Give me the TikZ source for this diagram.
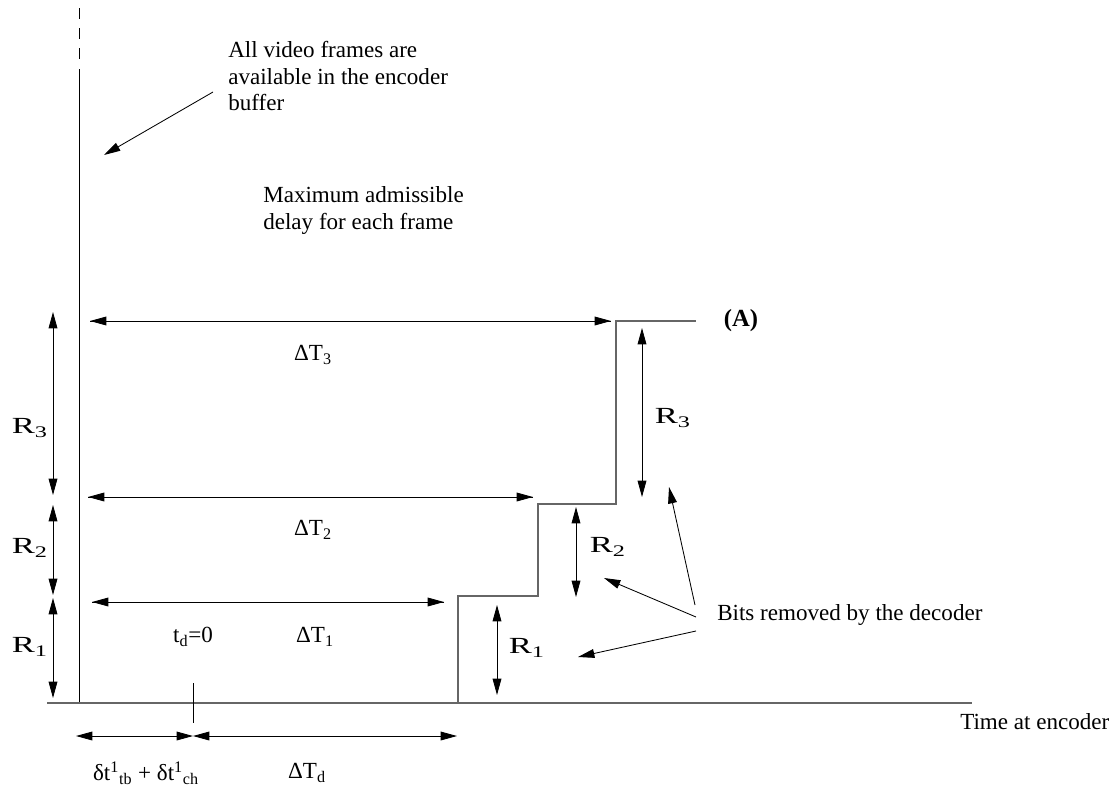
\documentclass[tikz,border=0pt]{standalone}
\usepackage{fontspec}
\setmainfont{Liberation Serif}
\usetikzlibrary{arrows.meta,positioning}

\newcommand{\wideR}[1]{\scalebox{1.5}[1]{R\textsubscript{#1}}}

\begin{document}
\begin{tikzpicture}[x=0.025cm, y=-0.025cm, font=\fontsize{16.4}{19}\selectfont,
  >={Triangle[length=4.1mm,width=2.2mm]},
  ln/.style={line width=0.6pt},
  dim/.style={ln, <->},
  stair/.style={line width=0.8pt, draw=black!60},
  txt/.style={inner sep=0pt, align=left},
  rl/.style={inner sep=0pt}]
\useasboundingbox (0,0) rectangle (1118,790);

% axes
\coordinate (ytop) at (79,8);
\coordinate (ydsh) at (79,60);
\coordinate (ybrk) at (79,69);
\coordinate (y0) at (79,703);
\coordinate (x0) at (47,703);
\coordinate (x1) at (972,703);
\draw[ln, dash pattern=on 2.8mm off 2.2mm] (ytop) -- (ydsh);
\draw[ln] (ybrk) -- (y0);
\draw[stair] (x0) -- (x1);
\node[txt, anchor=base west] (time) at (960,729) {Time at encoder};

% buffer occupancy
\coordinate (s0) at (458,703);
\coordinate (s1) at (458,596);
\coordinate (s2) at (538,596);
\coordinate (s3) at (538,504);
\coordinate (s4) at (616,504);
\coordinate (s5) at (616,321);
\coordinate (s6) at (696,321);
\draw[stair] (s0) -- (s1) -- (s2) -- (s3) -- (s4) -- (s5) -- (s6);
\node[inner sep=0pt, font=\fontsize{17.5}{20}\selectfont\bfseries] (A) at (741,321) {(A)};

% top notes
\node[txt, anchor=north west] (note1) at (228,41)
  {All video frames are\\available in the encoder\\buffer};
\coordinate (n1a) at (213,92);
\coordinate (n1b) at (104,155);
\draw[ln, ->] (n1a) -- (n1b);
\node[txt, anchor=north west] (note2) at (263,186)
  {Maximum admissible\\delay for each frame};

% left R arrows
\coordinate (l3t) at (53,312);
\coordinate (l3b) at (53,495);
\coordinate (l2t) at (53,505);
\coordinate (l2b) at (53,595);
\coordinate (l1t) at (53,598);
\coordinate (l1b) at (53,698);
\draw[dim] (l3t) -- (l3b);
\draw[dim] (l2t) -- (l2b);
\draw[dim] (l1t) -- (l1b);
\node[rl] (lR3) at (30,428) {\wideR{3}};
\node[rl] (lR2) at (30,548) {\wideR{2}};
\node[rl] (lR1) at (30,647) {\wideR{1}};

% delays
\coordinate (d3a) at (90,321);
\coordinate (d3b) at (611,321);
\coordinate (d2a) at (88,497);
\coordinate (d2b) at (533,497);
\coordinate (d1a) at (92,602);
\coordinate (d1b) at (444,602);
\draw[ln, ->] (d3b) -- (d3a);
\draw[ln, ->] (d3a) -- (d3b);
\draw[ln, ->] (d2b) -- (d2a);
\draw[ln, ->] (d2a) -- (d2b);
\draw[ln, ->] (d1b) -- (d1a);
\draw[ln, ->] (d1a) -- (d1b);
\node[inner sep=0pt] (dT3) at (313,355) {ΔT\textsubscript{3}};
\node[inner sep=0pt] (dT2) at (313,530) {ΔT\textsubscript{2}};
\node[inner sep=0pt] (dT1) at (315,637) {ΔT\textsubscript{1}};
\node[inner sep=0pt] (td) at (193,637) {t\textsubscript{d}=0};

% right R arrows
\coordinate (r3t) at (642,328);
\coordinate (r3b) at (642,497);
\coordinate (r2t) at (576,507);
\coordinate (r2b) at (576,597);
\coordinate (r1t) at (497,605);
\coordinate (r1b) at (497,695);
\draw[dim] (r3t) -- (r3b);
\draw[dim] (r2t) -- (r2b);
\draw[dim] (r1t) -- (r1b);
\node[rl] (rR3) at (673,418) {\wideR{3}};
\node[rl] (rR2) at (608,547) {\wideR{2}};
\node[rl] (rR1) at (527,648) {\wideR{1}};

% bits removed
\node[txt, anchor=base west] (bits) at (717,620) {Bits removed by the decoder};
\coordinate (b3) at (695,605);
\coordinate (b2) at (696,617);
\coordinate (b1) at (696,631);
\coordinate (t3) at (669,487);
\coordinate (t2) at (604,578);
\coordinate (t1) at (578,657);
\draw[ln, ->] (b3) -- (t3);
\draw[ln, ->] (b2) -- (t2);
\draw[ln, ->] (b1) -- (t1);

% start-up delay
\coordinate (tk0) at (193,683);
\coordinate (tk1) at (193,723);
\draw[ln] (tk0) -- (tk1);
\coordinate (e0) at (76,736);
\coordinate (e1) at (193,736);
\coordinate (e2) at (457,736);
\draw[dim] (e0) -- (e1);
\draw[dim] (e1) -- (e2);
\node[inner sep=0pt] (dt) at (146,773) {δt\textsuperscript{1}\textsubscript{tb} + δt\textsuperscript{1}\textsubscript{ch}};
\node[inner sep=0pt] (dTd) at (307,773) {ΔT\textsubscript{d}};
\end{tikzpicture}
\end{document}
